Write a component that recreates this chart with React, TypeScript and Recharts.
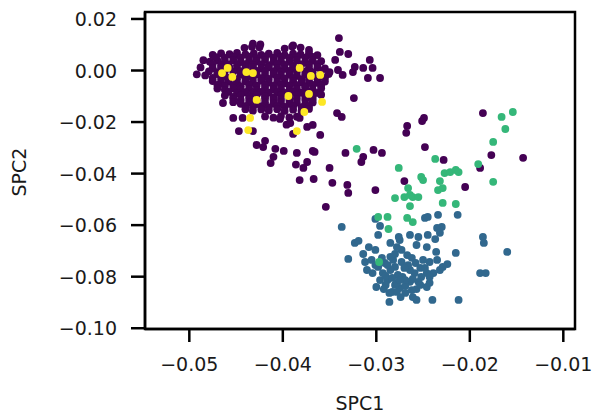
import React from "react"
import { ScatterChart, Scatter, XAxis, YAxis, ReferenceArea } from "recharts"

// cluster points: [SPC1, SPC2]
const clusterPurple: [number, number][] = [
  // dense blob
  [-0.0432, 0.0104], [-0.0424, 0.0101], [-0.0389, 0.0097],
  [-0.0441, 0.0088], [-0.0433, 0.0092], [-0.0425, 0.009], [-0.0398, 0.0085], [-0.039, 0.0093], [-0.0381, 0.0089], [-0.0372, 0.008],
  [-0.0475, 0.0061], [-0.0466, 0.0066], [-0.0457, 0.0063], [-0.0449, 0.0068], [-0.044, 0.0062], [-0.0431, 0.0066], [-0.0423, 0.0061],
  [-0.0415, 0.0065], [-0.0406, 0.0068], [-0.0398, 0.006], [-0.0389, 0.0065], [-0.0381, 0.0062], [-0.0372, 0.0067], [-0.0363, 0.006],
  [-0.0462, 0.0049], [-0.0453, 0.0053], [-0.0445, 0.005], [-0.0436, 0.0054], [-0.0428, 0.0048], [-0.0419, 0.0052], [-0.041, 0.005],
  [-0.0402, 0.0054], [-0.0393, 0.0049], [-0.0385, 0.0052], [-0.0376, 0.005], [-0.0368, 0.0053],
  [-0.0485, 0.004], [-0.0478, 0.0034], [-0.047, 0.0039], [-0.0462, 0.0035], [-0.0453, 0.004], [-0.0445, 0.0033], [-0.0436, 0.0038],
  [-0.0428, 0.0036], [-0.0419, 0.0041], [-0.041, 0.0034], [-0.0402, 0.0038], [-0.0393, 0.0035], [-0.0385, 0.004], [-0.0376, 0.0033],
  [-0.0368, 0.0038], [-0.0359, 0.0036], [-0.0472, 0.0052],
  [-0.0475, 0.0025], [-0.0466, 0.0021], [-0.0458, 0.0024], [-0.0449, 0.002], [-0.044, 0.0025], [-0.0432, 0.0022], [-0.0423, 0.0024],
  [-0.0415, 0.0021], [-0.0406, 0.0025], [-0.0398, 0.0022], [-0.0389, 0.002], [-0.038, 0.0024], [-0.0372, 0.0021], [-0.0363, 0.0025],
  [-0.0488, 0.0012], [-0.0475, 0.0009], [-0.0466, 0.0013], [-0.0457, 0.0011], [-0.0449, 0.0007], [-0.044, 0.0012], [-0.0432, 0.0014],
  [-0.0423, 0.0008], [-0.0415, 0.0013], [-0.0406, 0.001], [-0.0398, 0.0006], [-0.0389, 0.0012], [-0.0372, 0.0009], [-0.0363, 0.0013],
  [-0.0355, 0.0008],
  [-0.0479, -0.0003], [-0.047, -0.0006], [-0.0462, -0.0002], [-0.0453, -0.0005], [-0.0445, -0.0003], [-0.0436, -0.0007], [-0.0428, -0.0002],
  [-0.0419, -0.0005], [-0.041, -0.0003], [-0.0402, -0.0006], [-0.0393, -0.0002], [-0.0385, -0.0005], [-0.0376, -0.0003], [-0.0368, -0.0006],
  [-0.0359, -0.0002],
  [-0.0492, -0.0015], [-0.0483, -0.0019], [-0.047, -0.0014], [-0.0462, -0.002], [-0.0445, -0.0016], [-0.0436, -0.0021], [-0.0428, -0.0015],
  [-0.0419, -0.0019], [-0.041, -0.0014], [-0.0402, -0.002], [-0.0393, -0.0016], [-0.0385, -0.0021], [-0.0376, -0.0015], [-0.0368, -0.0019],
  [-0.0359, -0.0023], [-0.0351, -0.0014],
  [-0.0475, -0.0029], [-0.0466, -0.0033], [-0.0458, -0.003], [-0.0449, -0.0034], [-0.044, -0.0029], [-0.0432, -0.0032], [-0.0423, -0.003],
  [-0.0415, -0.0033], [-0.0406, -0.0029], [-0.0398, -0.0032], [-0.0389, -0.003], [-0.038, -0.0034], [-0.0372, -0.0029], [-0.0363, -0.0032],
  [-0.0355, -0.003],
  [-0.0475, -0.0041], [-0.0466, -0.0047], [-0.0458, -0.0043], [-0.0449, -0.0048], [-0.044, -0.0042], [-0.0432, -0.0046], [-0.0423, -0.004],
  [-0.0415, -0.0047], [-0.0406, -0.0044], [-0.0398, -0.0049], [-0.0389, -0.0042], [-0.038, -0.0046], [-0.0372, -0.0041], [-0.0363, -0.0048],
  [-0.0355, -0.0043],
  [-0.047, -0.0056], [-0.0462, -0.006], [-0.0453, -0.0057], [-0.0445, -0.0061], [-0.0436, -0.0056], [-0.0428, -0.0059], [-0.0419, -0.0057],
  [-0.041, -0.006], [-0.0402, -0.0056], [-0.0393, -0.0059], [-0.0385, -0.0057], [-0.0376, -0.0061], [-0.0368, -0.0056], [-0.0359, -0.0059],
  [-0.047, -0.007], [-0.0462, -0.0075], [-0.0453, -0.0069], [-0.0445, -0.0074], [-0.0436, -0.0071], [-0.0428, -0.0076], [-0.0419, -0.0068],
  [-0.041, -0.0073], [-0.0402, -0.007], [-0.0393, -0.0076], [-0.0385, -0.0071], [-0.0376, -0.0067], [-0.0368, -0.0074], [-0.0359, -0.0069],
  [-0.0458, -0.0083], [-0.0449, -0.0087], [-0.044, -0.0084], [-0.0432, -0.0088], [-0.0423, -0.0083], [-0.0415, -0.0086], [-0.0406, -0.0084],
  [-0.0398, -0.0087], [-0.0389, -0.0083], [-0.038, -0.0086], [-0.0372, -0.0084], [-0.0363, -0.0087],
  [-0.0462, -0.0097], [-0.0453, -0.0102], [-0.0445, -0.0096], [-0.0436, -0.0101], [-0.0428, -0.0095], [-0.0419, -0.01], [-0.041, -0.0104],
  [-0.0402, -0.0097], [-0.0393, -0.0102], [-0.0385, -0.0096], [-0.0376, -0.0101], [-0.0368, -0.0098], [-0.0359, -0.0094],
  [-0.0453, -0.011], [-0.0445, -0.0114], [-0.0436, -0.0111], [-0.0428, -0.0115], [-0.0419, -0.011], [-0.041, -0.0113], [-0.0402, -0.0111],
  [-0.0393, -0.0114], [-0.0385, -0.011], [-0.0376, -0.0113], [-0.0368, -0.0111],
  [-0.0464, -0.0126], [-0.0453, -0.0123], [-0.0445, -0.0129], [-0.0436, -0.0124], [-0.0428, -0.013], [-0.0419, -0.0125], [-0.041, -0.0128],
  [-0.0402, -0.0122], [-0.0393, -0.0129], [-0.0385, -0.0125], [-0.0376, -0.0131], [-0.0368, -0.0124],
  [-0.044, -0.0138], [-0.0432, -0.0142], [-0.0423, -0.0139], [-0.0415, -0.0143], [-0.0406, -0.0138], [-0.0398, -0.0141], [-0.0389, -0.0139],
  [-0.038, -0.0142], [-0.0372, -0.0138],
  [-0.044, -0.015], [-0.0432, -0.0156], [-0.0423, -0.0151], [-0.0415, -0.0155], [-0.0406, -0.015], [-0.0398, -0.0157], [-0.0389, -0.0152],
  [-0.038, -0.0156], [-0.0372, -0.0149],
  [-0.0419, -0.0178], [-0.041, -0.0183], [-0.0402, -0.0177], [-0.0393, -0.0182], [-0.0385, -0.0179], [-0.0396, -0.021],
  // scattered
  [-0.034, 0.0126], [-0.0339, 0.0072], [-0.033, 0.0064], [-0.0344, 0.0041], [-0.0323, 0.0014], [-0.0325, -0.0006], [-0.035, -0.0006],
  [-0.0341, 0.0002], [-0.0336, -0.0017], [-0.0314, 0.001], [-0.0307, 0.0041], [-0.0304, 0.001], [-0.0309, -0.0029], [-0.0296, -0.0029],
  [-0.0324, -0.0107], [-0.0342, -0.0165], [-0.0337, -0.018], [-0.036, -0.025], [-0.0374, -0.0219], [-0.0368, -0.0211], [-0.0366, -0.0316],
  [-0.0333, -0.032], [-0.0347, -0.0436], [-0.0331, -0.0444], [-0.033, -0.0475], [-0.0354, -0.0529], [-0.0301, -0.0464], [-0.0314, -0.0335],
  [-0.0316, -0.0355], [-0.0303, -0.0308], [-0.0294, -0.032], [-0.0267, -0.0215], [-0.0268, -0.0242], [-0.0251, -0.0196], [-0.0249, -0.0184],
  [-0.0248, -0.0297], [-0.0186, -0.0165], [-0.027, -0.0429], [-0.0228, -0.0347], [-0.0189, -0.0378], [-0.0177, -0.0328], [-0.0143, -0.0339],
  [-0.0205, -0.0452], [-0.0382, -0.0425], [-0.0367, -0.0421], [-0.0428, -0.0289], [-0.0421, -0.0297], [-0.0419, -0.0273], [-0.0408, -0.0304],
  [-0.0399, -0.0312], [-0.041, -0.0335], [-0.0413, -0.0359], [-0.0385, -0.032], [-0.0386, -0.0365], [-0.0374, -0.0355], [-0.0378, -0.0378],
  [-0.0368, -0.0312], [-0.0389, -0.0246], [-0.0453, -0.0184], [-0.0443, -0.0184], [-0.0447, -0.0235], [-0.0432, -0.0235], [-0.0403, -0.0188],
  [-0.0392, -0.0204], [-0.0382, -0.0184], [-0.035, -0.0378],
]

const clusterBlue: [number, number][] = [
  [-0.0337, -0.0607], [-0.0301, -0.0576], [-0.0296, -0.0603], [-0.0248, -0.0572], [-0.0245, -0.0568], [-0.0234, -0.056], [-0.0213, -0.056],
  [-0.023, -0.0607], [-0.0235, -0.0611], [-0.0298, -0.0638], [-0.0323, -0.0669], [-0.0319, -0.0661], [-0.033, -0.0731], [-0.0314, -0.0712],
  [-0.0308, -0.0685], [-0.0301, -0.0696], [-0.0285, -0.0669], [-0.0275, -0.0658], [-0.0264, -0.0638], [-0.0245, -0.0638], [-0.0237, -0.0654],
  [-0.0232, -0.063], [-0.0246, -0.0685], [-0.0236, -0.0704], [-0.0215, -0.0708], [-0.0186, -0.0646], [-0.0185, -0.0669], [-0.016, -0.0704],
  [-0.0189, -0.0786], [-0.0183, -0.0786], [-0.0212, -0.089], [-0.024, -0.089], [-0.0286, -0.0898], [-0.0286, -0.0863], [-0.0269, -0.0863],
  [-0.0261, -0.0879], [-0.0246, -0.084], [-0.0243, -0.0824], [-0.0224, -0.0751], [-0.0232, -0.0774], [-0.0239, -0.0786], [-0.0246, -0.0786],
  [-0.0252, -0.0801], [-0.0259, -0.0786], [-0.0264, -0.0774], [-0.0258, -0.0747], [-0.025, -0.0735], [-0.0243, -0.0743], [-0.0235, -0.0735],
  [-0.0264, -0.082], [-0.0255, -0.082], [-0.0275, -0.0844], [-0.028, -0.0832], [-0.0288, -0.0813], [-0.0293, -0.0786], [-0.0296, -0.0813],
  [-0.0304, -0.0786], [-0.031, -0.0774], [-0.0312, -0.0743], [-0.0282, -0.0735], [-0.028, -0.0762], [-0.0273, -0.0743], [-0.0285, -0.0774],
  [-0.0277, -0.0793], [-0.0272, -0.0801], [-0.0267, -0.0716], [-0.0273, -0.0696], [-0.0278, -0.0685], [-0.0285, -0.0723], [-0.0291, -0.0747],
  [-0.0278, -0.0824], [-0.0269, -0.0836], [-0.0257, -0.0848], [-0.0243, -0.0801], [-0.0229, -0.0762], [-0.0276, -0.0646], [-0.0257, -0.0677],
  [-0.0255, -0.0646], [-0.0257, -0.089], [-0.0283, -0.0859], [-0.0292, -0.0848], [-0.0274, -0.0879], [-0.0298, -0.0762], [-0.029, -0.0797],
  [-0.0269, -0.0813], [-0.0305, -0.0735], [-0.0253, -0.0766], [-0.0262, -0.0852], [-0.028, -0.0712],
  [-0.0301, -0.0755], [-0.0294, -0.0727], [-0.0288, -0.0755], [-0.0275, -0.0813], [-0.0283, -0.0805], [-0.0266, -0.0755], [-0.0262, -0.0727],
  [-0.0248, -0.0766], [-0.0253, -0.0832], [-0.029, -0.0832], [-0.03, -0.084], [-0.0278, -0.0859], [-0.027, -0.0766], [-0.0261, -0.0809],
]

const clusterGreen: [number, number][] = [
  [-0.0321, -0.0304], [-0.0276, -0.0378], [-0.0252, -0.0413], [-0.025, -0.0425], [-0.0237, -0.0343], [-0.0166, -0.018], [-0.0154, -0.0161],
  [-0.0162, -0.0227], [-0.0175, -0.0277], [-0.0191, -0.0363], [-0.0175, -0.0432], [-0.0227, -0.0398], [-0.0221, -0.0394], [-0.0215, -0.0386],
  [-0.0212, -0.0394], [-0.0232, -0.0429], [-0.0234, -0.0464], [-0.0229, -0.0456], [-0.0266, -0.0456], [-0.0264, -0.0483], [-0.028, -0.0495],
  [-0.027, -0.0491], [-0.0261, -0.0491], [-0.0255, -0.0491], [-0.0264, -0.0526], [-0.0229, -0.0514], [-0.0215, -0.0518], [-0.0288, -0.0568],
  [-0.0267, -0.0572], [-0.0261, -0.0588], [-0.0298, -0.0568], [-0.0287, -0.0615], [-0.0297, -0.0743],
]

const clusterYellow: [number, number][] = [
  [-0.0465, -0.001], [-0.0454, -0.0025], [-0.0439, -0.0006], [-0.0459, 0.001], [-0.0432, -0.001], [-0.0428, -0.0114], [-0.0435, -0.0184],
  [-0.0437, -0.0231], [-0.0382, 0.001], [-0.037, -0.0021], [-0.036, -0.0017], [-0.0372, -0.0091], [-0.0358, -0.0122], [-0.0385, -0.0235],
  [-0.0394, -0.0099], [-0.0377, -0.0161],
]

const xTicks = [-0.05, -0.04, -0.03, -0.02, -0.01]
const yTicks = [0.02, 0, -0.02, -0.04, -0.06, -0.08, -0.1]

const toPoints = (pts: [number, number][]) => pts.map(([x, y]) => ({ x, y }))

const fmt = (v: number) => (v < 0 ? "\u2212" : "") + Math.abs(v).toFixed(2)

const FONT = "DejaVu Sans"
const INK = "#1a1a1a"

const dot = (color: string) => (props: any) => (
  <circle cx={props.cx} cy={props.cy} r={3.9} fill={color} />
)

function XTick({ x, y, payload }: any) {
  return (
    <text x={x} y={y} dy={25} textAnchor="middle" fontSize={19} fontFamily={FONT} fill={INK}>
      {fmt(payload.value)}
    </text>
  )
}

function YTick({ x, y, payload }: any) {
  return (
    <text x={x} y={y} dy={7} textAnchor="end" fontSize={19} fontFamily={FONT} fill={INK}>
      {fmt(payload.value)}
    </text>
  )
}

const XTitle = (props: any) => {
  const vb = props.viewBox
  return (
    <text x={vb.x + vb.width / 2} y={410} textAnchor="middle" fontSize={19} fontFamily={FONT} fill={INK}>
      SPC1
    </text>
  )
}

const YTitle = () => (
  <text x={26} y={172} transform="rotate(-90 26 172)" textAnchor="middle" fontSize={19} fontFamily={FONT} fill={INK}>
    SPC2
  </text>
)

const xDomain = [-0.05474, -0.00875]
const yDomain = [-0.1003, 0.0227]
const spine = { stroke: "#000", strokeWidth: 2.5 }

export default function App() {
  return (
    <div style={{ position: "absolute", left: 0, top: 0, background: "#fff" }}>
      <ScatterChart width={594} height={416} margin={{ top: 12, right: 19, bottom: 0, left: 0 }}>
        <XAxis
          type="number"
          dataKey="x"
          domain={xDomain}
          ticks={xTicks}
          allowDataOverflow
          height={87}
          tickSize={13}
          tickMargin={4}
          axisLine={spine}
          tickLine={spine}
          tick={<XTick />}
          label={XTitle}
        />
        <YAxis
          type="number"
          dataKey="y"
          domain={yDomain}
          ticks={yTicks}
          allowDataOverflow
          width={145}
          tickSize={14}
          tickMargin={14}
          axisLine={spine}
          tickLine={spine}
          tick={<YTick />}
          label={YTitle}
        />
        <Scatter data={toPoints(clusterPurple)} shape={dot("#440154")} isAnimationActive={false} />
        <Scatter data={toPoints(clusterBlue)} shape={dot("#31688e")} isAnimationActive={false} />
        <Scatter data={toPoints(clusterGreen)} shape={dot("#35b779")} isAnimationActive={false} />
        <Scatter data={toPoints(clusterYellow)} shape={dot("#fde725")} isAnimationActive={false} />
        <ReferenceArea
          x1={xDomain[0]}
          x2={xDomain[1]}
          y1={yDomain[0]}
          y2={yDomain[1]}
          fill="none"
          fillOpacity={0}
          stroke="#000"
          strokeWidth={2.5}
        />
      </ScatterChart>
    </div>
  )
}
